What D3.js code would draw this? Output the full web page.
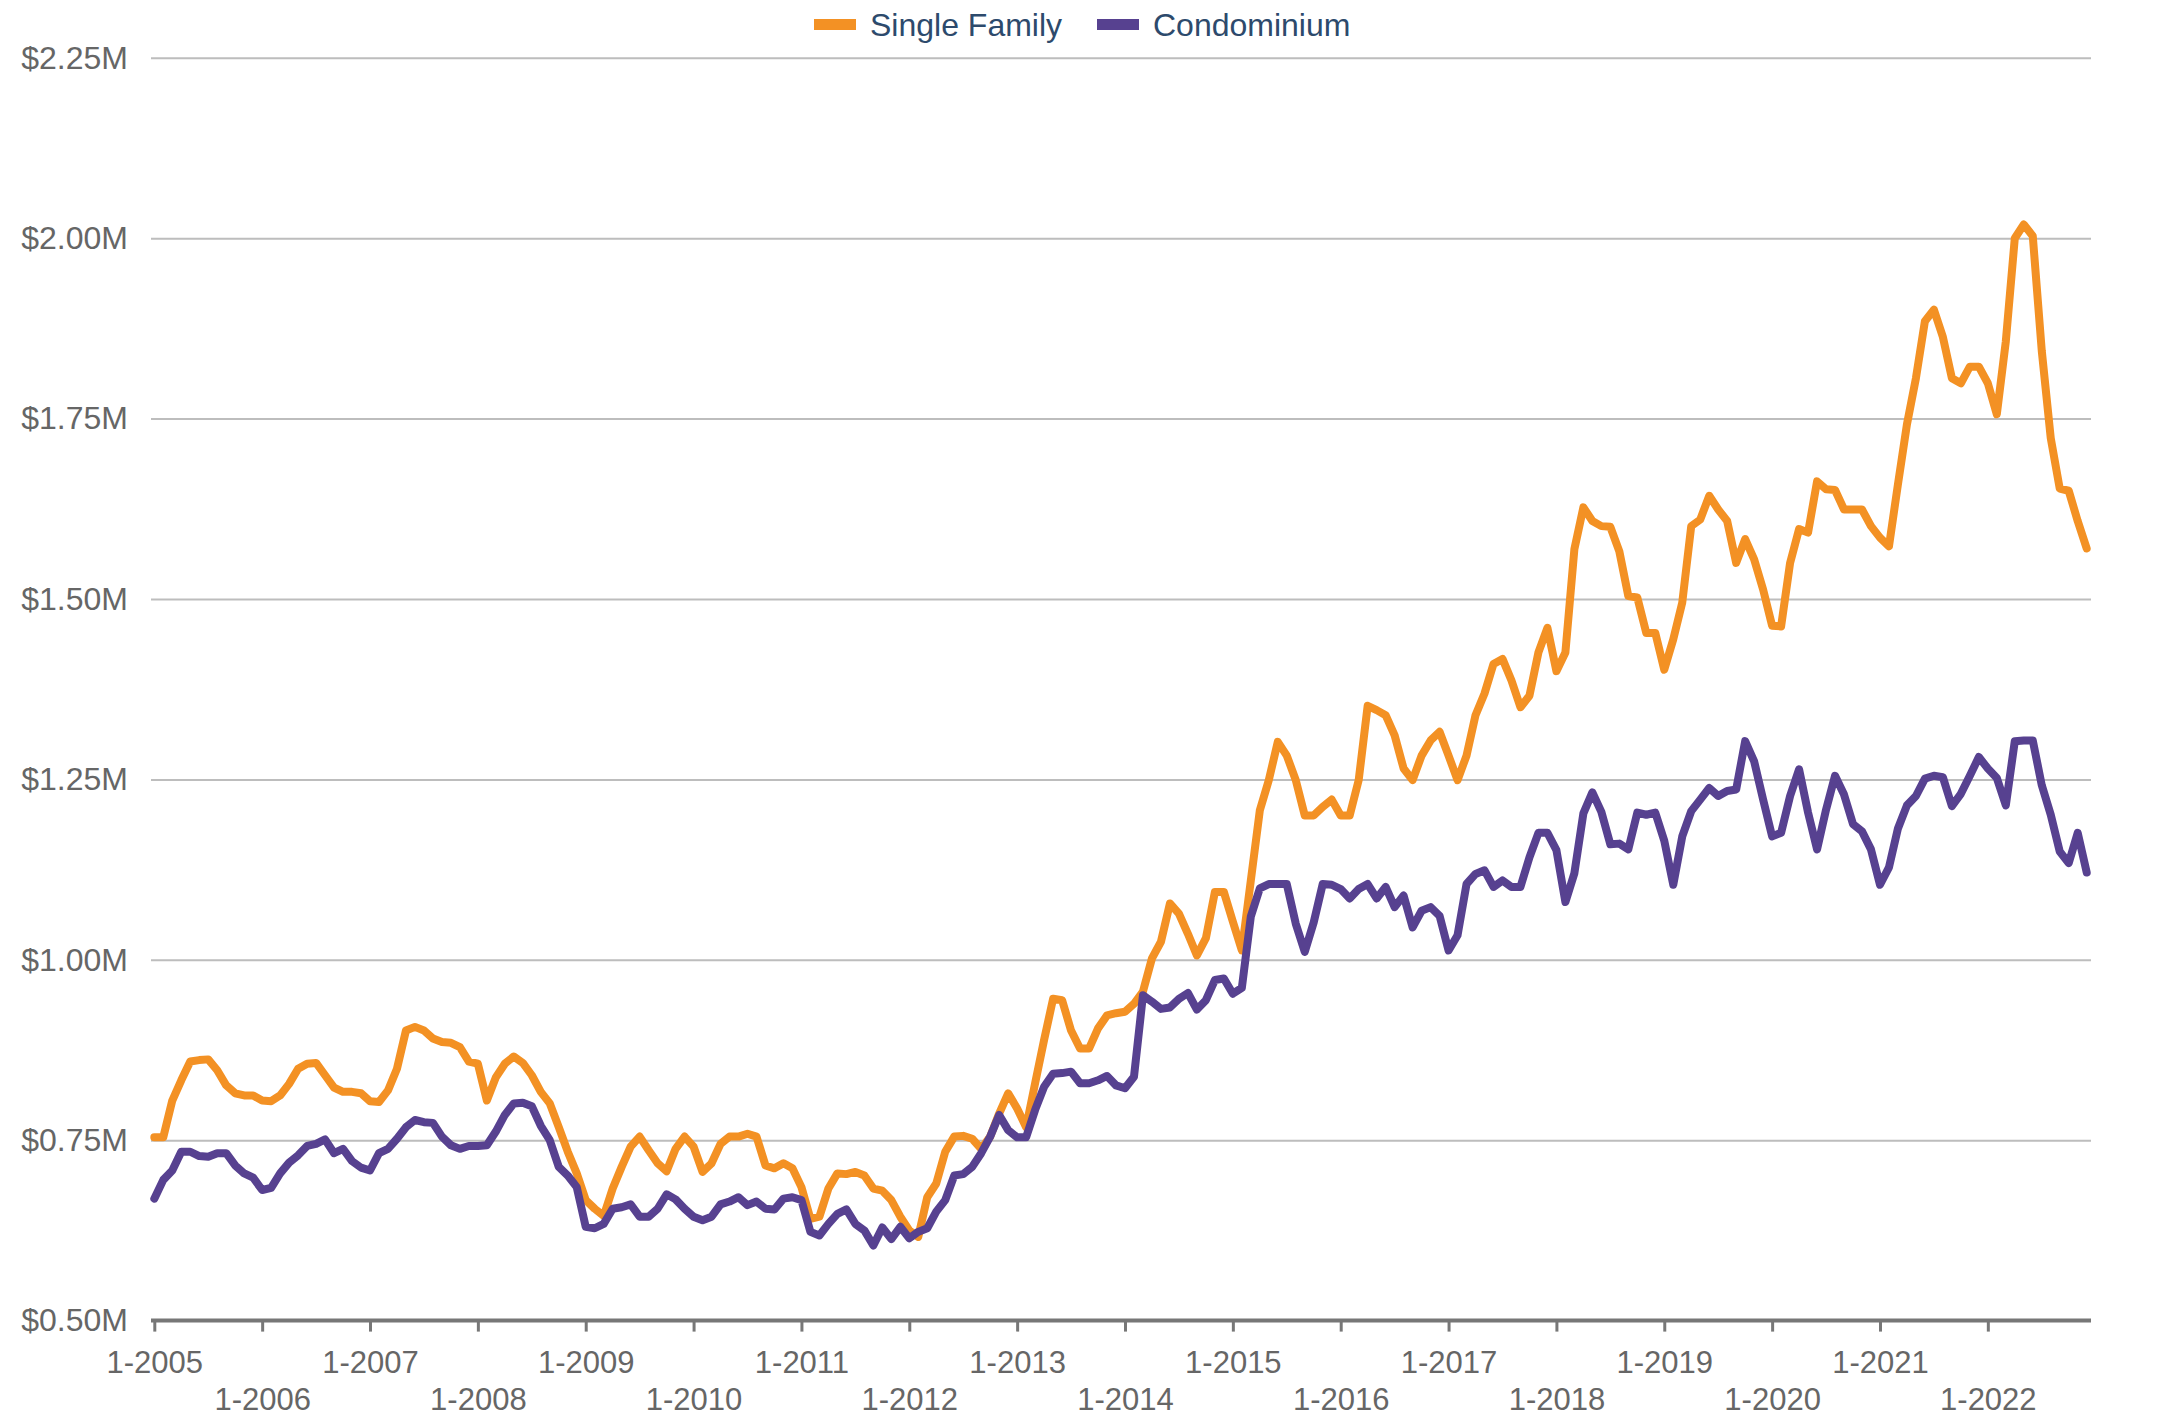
<!DOCTYPE html>
<html>
<head>
<meta charset="utf-8">
<script src="https://cdn.jsdelivr.net/npm/d3@7"></script>
<style>
  html, body { margin: 0; padding: 0; background: #fff; }
  svg text { font-family: "Liberation Sans", Arial, sans-serif; }
</style>
</head>
<body>
<svg id="chart" width="2157" height="1417"></svg>
<script>
// ---- DATA ----
const seriesNames = ["Single Family", "Condominium"];
const startYear = 2005;
const yTickValues = [0.5, 0.75, 1.0, 1.25, 1.5, 1.75, 2.0, 2.25];
const xTickYears = [2005,2006,2007,2008,2009,2010,2011,2012,2013,2014,2015,2016,2017,2018,2019,2020,2021,2022];

// monthly median price, $M, Jan 2005 .. Dec 2022
const singleFamily = [
  0.754,0.754,0.805,0.833,0.859,0.861,0.862,0.847,0.826,0.815,0.812,0.812,
  0.805,0.804,0.812,0.828,0.849,0.856,0.857,0.840,0.823,0.817,0.817,0.815,
  0.804,0.803,0.819,0.849,0.902,0.907,0.902,0.891,0.886,0.885,0.879,0.859,
  0.856,0.805,0.837,0.856,0.866,0.857,0.840,0.817,0.801,0.768,0.734,0.704,
  0.667,0.655,0.645,0.683,0.713,0.741,0.755,0.736,0.718,0.707,0.738,0.755,
  0.741,0.706,0.718,0.745,0.755,0.755,0.759,0.755,0.715,0.711,0.718,0.711,
  0.685,0.641,0.644,0.683,0.704,0.703,0.706,0.701,0.683,0.680,0.667,0.644,
  0.625,0.616,0.671,0.690,0.734,0.755,0.756,0.752,0.738,0.755,0.787,0.815,
  0.794,0.768,0.829,0.889,0.946,0.944,0.902,0.877,0.877,0.905,0.923,0.926,
  0.928,0.939,0.956,1.002,1.025,1.078,1.064,1.036,1.006,1.030,1.094,1.094,
  1.053,1.013,1.110,1.207,1.249,1.302,1.283,1.249,1.200,1.200,1.212,1.222,
  1.200,1.200,1.249,1.352,1.346,1.339,1.311,1.265,1.249,1.283,1.304,1.316,
  1.283,1.249,1.283,1.339,1.369,1.410,1.417,1.387,1.350,1.366,1.426,1.460,
  1.400,1.426,1.569,1.627,1.608,1.601,1.600,1.566,1.504,1.502,1.453,1.453,
  1.402,1.444,1.495,1.601,1.610,1.643,1.624,1.608,1.550,1.583,1.555,1.513,
  1.463,1.462,1.550,1.597,1.592,1.663,1.652,1.651,1.624,1.624,1.624,1.601,
  1.585,1.573,1.659,1.742,1.806,1.885,1.901,1.863,1.806,1.799,1.822,1.822,
  1.799,1.756,1.857,2.000,2.019,2.003,1.844,1.723,1.653,1.650,1.608,1.570
];
const condominium = [
  0.669,0.695,0.708,0.734,0.734,0.728,0.727,0.732,0.732,0.715,0.704,0.698,
  0.681,0.684,0.704,0.719,0.729,0.742,0.745,0.751,0.732,0.738,0.721,0.712,
  0.708,0.732,0.738,0.752,0.768,0.778,0.775,0.774,0.755,0.743,0.738,0.742,
  0.742,0.743,0.762,0.785,0.801,0.802,0.797,0.770,0.750,0.713,0.701,0.685,
  0.630,0.628,0.634,0.655,0.657,0.661,0.644,0.644,0.655,0.675,0.668,0.655,
  0.644,0.639,0.644,0.661,0.665,0.671,0.660,0.665,0.655,0.654,0.669,0.671,
  0.667,0.623,0.618,0.634,0.648,0.654,0.634,0.625,0.604,0.629,0.613,0.630,
  0.614,0.623,0.628,0.651,0.667,0.701,0.703,0.713,0.732,0.755,0.785,0.764,
  0.754,0.754,0.792,0.824,0.842,0.843,0.845,0.829,0.829,0.833,0.839,0.826,
  0.822,0.838,0.951,0.942,0.932,0.934,0.946,0.954,0.931,0.944,0.972,0.974,
  0.953,0.961,1.060,1.099,1.105,1.105,1.105,1.050,1.011,1.052,1.105,1.104,
  1.098,1.085,1.098,1.105,1.085,1.101,1.073,1.089,1.045,1.068,1.073,1.061,
  1.013,1.034,1.105,1.119,1.124,1.101,1.110,1.101,1.101,1.142,1.176,1.176,
  1.152,1.080,1.120,1.203,1.232,1.205,1.160,1.161,1.153,1.204,1.201,1.204,
  1.165,1.104,1.171,1.206,1.222,1.238,1.227,1.234,1.236,1.303,1.275,1.222,
  1.171,1.176,1.227,1.264,1.204,1.153,1.208,1.255,1.229,1.188,1.178,1.153,
  1.104,1.128,1.182,1.214,1.227,1.251,1.255,1.253,1.213,1.230,1.255,1.281,
  1.265,1.252,1.214,1.303,1.304,1.304,1.242,1.201,1.150,1.134,1.176,1.121
];
const seriesColors = ["#F39124", "#574190"];

// ---- LAYOUT ----
const svg = d3.select("#chart");
const plotLeft = 151, plotRight = 2091;
const x = d3.scaleLinear().domain([0, singleFamily.length - 1]).range([154.3, 2086.7]);
const y = d3.scaleLinear().domain([0.5, 2.25]).range([1320.6, 57.8]);

// gridlines + y labels
const yAxis = d3.axisLeft(y)
  .tickValues(yTickValues)
  .tickSize(-(plotRight - plotLeft))
  .tickPadding(23)
  .tickFormat(d => "$" + d3.format(".2f")(d) + "M");
const gy = svg.append("g").attr("transform", `translate(${plotLeft},0)`).call(yAxis);
gy.select(".domain").remove();
gy.selectAll(".tick line").attr("stroke", "#bdbdbd").attr("stroke-width", 2);
gy.selectAll(".tick text").attr("fill", "#666").attr("font-size", 32);
gy.selectAll(".tick").filter(d => d === 0.5).select("line").remove();

// x axis
const xTickIdx = xTickYears.map(yr => (yr - startYear) * 12);
const xAxis = d3.axisBottom(x)
  .tickValues(xTickIdx)
  .tickSize(11)
  .tickFormat(i => "1-" + (startYear + i / 12));
const gx = svg.append("g").attr("transform", `translate(0,${y(0.5)})`).call(xAxis);
gx.select(".domain").remove();
gx.selectAll(".tick line").attr("stroke", "#777").attr("stroke-width", 3);
gx.selectAll(".tick text")
  .attr("fill", "#666").attr("font-size", 31)
  .attr("dy", null)
  .attr("y", (d, i) => i % 2 === 0 ? 52 : 89);
gx.append("line")
  .attr("x1", plotLeft).attr("x2", plotRight)
  .attr("y1", 0).attr("y2", 0)
  .attr("stroke", "#777").attr("stroke-width", 4);

// lines
const line = d3.line().x((d, i) => x(i)).y(d => y(d));
[singleFamily, condominium].forEach((s, k) => {
  svg.append("path")
    .datum(s)
    .attr("d", line)
    .attr("fill", "none")
    .attr("stroke", seriesColors[k])
    .attr("stroke-width", 8)
    .attr("stroke-linejoin", "round")
    .attr("stroke-linecap", "round");
});

// legend
const legendItems = [
  { name: seriesNames[0], color: seriesColors[0], x: 814 },
  { name: seriesNames[1], color: seriesColors[1], x: 1097 }
];
const lg = svg.append("g").attr("class", "legend");
legendItems.forEach(it => {
  lg.append("rect").attr("x", it.x).attr("y", 19).attr("width", 42).attr("height", 11).attr("fill", it.color);
  lg.append("text").attr("x", it.x + 56).attr("y", 36)
    .attr("font-size", 32).attr("fill", "#2d4a6c").text(it.name);
});
</script>
</body>
</html>
